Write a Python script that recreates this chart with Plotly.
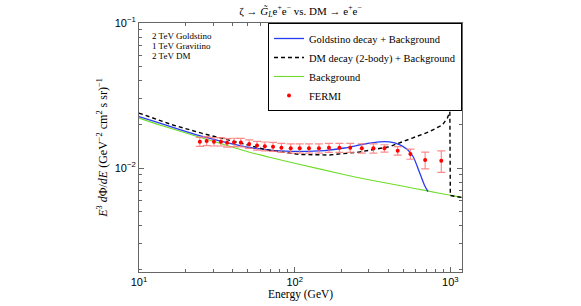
import plotly.graph_objects as go

# ---------------- data ----------------
# Background (green)
bg_E = [10, 13.6, 20, 30, 50, 70, 100, 200, 300, 500, 700, 1000, 1200]
bg_V = [0.0221, 0.0198, 0.01746, 0.01528, 0.01294, 0.01181, 0.0108,
        0.00909, 0.00829, 0.00748, 0.00698, 0.00649, 0.00626]

# Goldstino decay + Background (blue)
gold_E = [10, 13.6, 18.3, 25.2, 35.6, 51.5, 74.4, 107.7, 155.7, 209.2, 281,
          350.6, 406.3, 471, 530, 579, 632.6, 681, 719]
gold_V = [0.02265, 0.02043, 0.01843, 0.01662, 0.01511, 0.01385, 0.0132,
          0.01304, 0.0132, 0.01374, 0.01464, 0.01516, 0.01516, 0.01452,
          0.01341, 0.01191, 0.00938, 0.00764, 0.00687]

# DM decay (2-body) + Background (black dashed)
dm_E = [10, 16.5, 25.2, 44.4, 67.1, 107.7, 167.6, 261, 406, 570, 733, 889,
        957, 993, 1000, 1177]
dm_V = [0.0239, 0.0198, 0.0174, 0.01486, 0.0133, 0.0124, 0.0123, 0.0129,
        0.01402, 0.0161, 0.0178, 0.0198, 0.0221, 0.0244, 0.00646, 0.00627]

# FERMI data points
fermi_E = [24.6, 27.2, 30.3, 33.6, 36.8, 40.8, 45.1, 51.0, 57.3, 64.3, 72.6,
           82.2, 94.3, 107.7, 123.6, 143.2, 166, 194, 227.5, 270, 320.6,
           377.4, 459, 554, 689, 875]
fermi_V = [0.01518, 0.01535, 0.01518, 0.01518, 0.01494, 0.01504, 0.01499,
           0.01464, 0.01429, 0.01411, 0.01402, 0.0138, 0.01367, 0.01367,
           0.01367, 0.01367, 0.0138, 0.0138, 0.0138, 0.01367, 0.01367,
           0.01367, 0.01316, 0.01249, 0.01136, 0.01123]
fermi_err = [0.0011, 0.0011, 0.001, 0.001, 0.001, 0.001, 0.001, 0.001, 0.001,
             0.001, 0.001, 0.001, 0.001, 0.001, 0.001, 0.001, 0.001, 0.001,
             0.001, 0.001, 0.001, 0.0008, 0.0009, 0.001, 0.0015, 0.0019]

x_tickvals = [10, 100, 1000]
x_ticktext = ["10<sup>1</sup>", "10<sup>2</sup>", "10<sup>3</sup>"]
y_tickvals = [0.01, 0.1]
y_ticktext = ["10<sup>−2</sup>", "10<sup>−1</sup>"]
x_minor = [20, 30, 40, 50, 60, 70, 80, 90, 200, 300, 400, 500, 600, 700, 800, 900]
y_minor = [0.002, 0.003, 0.004, 0.005, 0.006, 0.007, 0.008, 0.009,
           0.02, 0.03, 0.04, 0.05, 0.06, 0.07, 0.08, 0.09]

labels = ["2 TeV Goldstino", "1 TeV Gravitino", "2 TeV DM"]

SERIF = "Liberation Serif"
SANS = "Liberation Sans"

fig = go.Figure()
fig.add_trace(go.Scatter(x=bg_E, y=bg_V, mode="lines", name="Background",
                         legendrank=3,
                         line=dict(color="rgb(110,220,40)", width=1.1, shape="spline", smoothing=0.6)))
fig.add_trace(go.Scatter(x=gold_E, y=gold_V, mode="lines",
                         name="Goldstino decay + Background", legendrank=1,
                         line=dict(color="rgb(40,60,240)", width=1.3, shape="spline", smoothing=0.6)))
fig.add_trace(go.Scatter(x=dm_E, y=dm_V, mode="lines",
                         name="DM decay (2-body) + Background", legendrank=2,
                         line=dict(color="black", width=1.4, dash="4px,3px")))
fig.add_trace(go.Scatter(x=fermi_E, y=fermi_V, mode="markers", name="FERMI",
                         legendrank=4,
                         marker=dict(color="red", size=4),
                         error_y=dict(type="data", array=fermi_err, visible=True,
                                      color="rgba(250,120,120,0.85)", thickness=1.2, width=4)))

axis_common = dict(type="log", showline=True, linecolor="#666", linewidth=1.2,
                   mirror="ticks", ticks="inside", ticklen=5, tickcolor="#666",
                   showgrid=False, zeroline=False, automargin=False,
                   tickfont=dict(family=SANS, size=11, color="black"))

fig.update_xaxes(range=[1, 3.075], tickmode="array", tickvals=x_tickvals,
                 ticktext=x_ticktext,
                 minor=dict(tickmode="array", tickvals=x_minor, ticks="inside",
                            ticklen=3, tickcolor="#666"),
                 title=dict(text="Energy (GeV)", font=dict(family=SERIF, size=11.5, color="black"),
                            standoff=0),
                 **axis_common)
fig.update_yaxes(range=[-2.717, -1], tickmode="array", tickvals=y_tickvals,
                 ticktext=y_ticktext,
                 minor=dict(tickmode="array", tickvals=y_minor, ticks="inside",
                            ticklen=3, tickcolor="#666"),
                 title=dict(text="<i>E</i><sup>3</sup> <i>d</i>Φ/<i>dE</i> (GeV<sup>−2</sup> cm<sup>2</sup> s sr)<sup>−1</sup>",
                            font=dict(family=SERIF, size=12, color="black"), standoff=4),
                 **axis_common)

for i, t in enumerate(labels):
    fig.add_annotation(text=t, xref="paper", yref="paper", x=0.034,
                       y=(272 - (36 + 10 * i)) / 249, xanchor="left", yanchor="middle",
                       showarrow=False, font=dict(family=SERIF, size=9, color="black"))

fig.update_layout(
    width=581, height=306,
    margin=dict(l=139, r=119, t=23, b=34, autoexpand=False),
    paper_bgcolor="white", plot_bgcolor="white",
    title=dict(text="ζ → <i>G̃</i><sub><i>L</i></sub>e<sup>+</sup>e<sup>−</sup> vs. DM → e<sup>+</sup>e<sup>−</sup>",
               x=300.5 / 581, xanchor="center", y=1 - 11 / 306, yanchor="middle",
               font=dict(family=SERIF, size=11, color="black")),
    legend=dict(x=1, xanchor="right", y=1, yanchor="top", bgcolor="white",
                bordercolor="black", borderwidth=1, itemwidth=30,
                font=dict(family=SERIF, size=10.5, color="black"),
                tracegroupgap=0),
    showlegend=True,
)

fig.write_html("out.html", config={"displayModeBar": False},
               post_script="document.body.style.margin='0';document.body.style.overflow='hidden';")
